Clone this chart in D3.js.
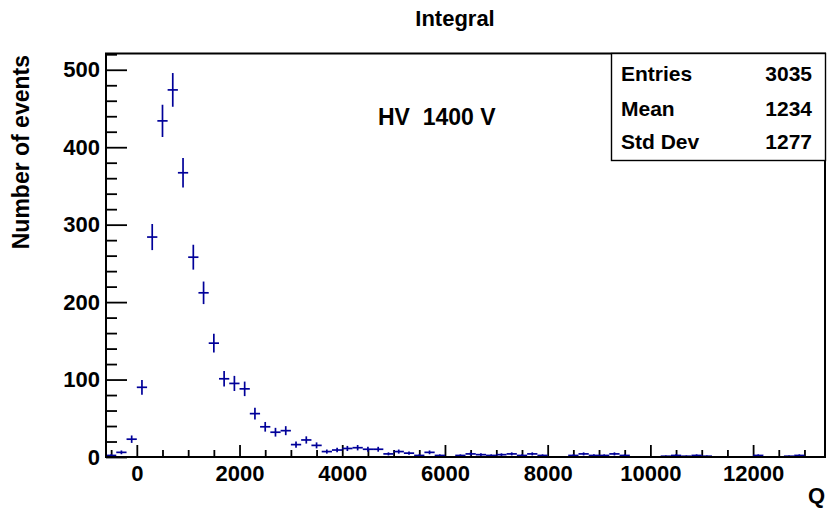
<!DOCTYPE html>
<html>
<head>
<meta charset="utf-8">
<script src="https://cdn.jsdelivr.net/npm/d3@7"></script>
<style>
  html, body { margin: 0; padding: 0; background: #fff; }
  svg { display: block; }
  text { font-family: "Liberation Sans", Arial, Helvetica, sans-serif; font-weight: bold; fill: #000; }
</style>
</head>
<body>
<svg id="chart" width="832" height="508"></svg>
<script>
// Histogram "Integral": charge Q, 70 bins of width 200 from -600 to 13400
const xRange = [-600, 13400];
const binWidth = 200;
const counts = [
  2, 6, 23, 90, 284, 434, 474, 367, 258, 212,
  147, 101, 95, 88, 56, 39, 32, 34, 16, 22,
  15, 7, 9, 11, 12, 10, 10, 4, 7, 5,
  2, 6, 2, 0, 2, 4, 3, 2, 3, 4,
  2, 4, 2, 0, 0, 2, 4, 2, 2, 4,
  2, 0, 0, 0, 1, 2, 1, 2, 1, 0,
  0, 0, 0, 2, 0, 0, 1, 2, 0, 0
];
const yMax = 521;
const xMajorTicks = [0, 2000, 4000, 6000, 8000, 10000, 12000];
const yMajorTicks = [0, 100, 200, 300, 400, 500];
const statLabels = ["Entries", "Mean", "Std Dev"];
const statValues = ["3035", "1234", "1277"];
const chartTitle = "Integral";
const xTitle = "Q";
const yTitle = "Number of events";
const note = "HV  1400 V";

const svg = d3.select("#chart");
const frame = { left: 106, right: 825, top: 53.5, bottom: 457 };
const markColor = "#000099";
const labelSize = 22;
const titleSize = 23;
const statSize = 21;

const x = d3.scaleLinear().domain(xRange).range([frame.left, frame.right]);
const y = d3.scaleLinear().domain([0, yMax]).range([frame.bottom, frame.top]);

// Minor ticks every 500 on Q, every 20 on counts
const xMinor = d3.range(-500, xRange[1] + 1, 500).filter(v => v % 2000 !== 0);
const yMinor = d3.range(0, yMax, 20).filter(v => v % 100 !== 0);

// Bottom axis: major ticks with labels, then minor ticks
svg.append("g").attr("transform", `translate(0,${frame.bottom})`)
  .call(d3.axisBottom(x).tickValues(xMajorTicks).tickSize(-12).tickPadding(8).tickFormat(d3.format("d")));
svg.append("g").attr("transform", `translate(0,${frame.bottom})`)
  .call(d3.axisBottom(x).tickValues(xMinor).tickSize(-7).tickFormat(""));

// Left axis
svg.append("g").attr("transform", `translate(${frame.left},0)`)
  .call(d3.axisLeft(y).tickValues(yMajorTicks).tickSize(-21).tickPadding(6).tickFormat(d3.format("d")));
svg.append("g").attr("transform", `translate(${frame.left},0)`)
  .call(d3.axisLeft(y).tickValues(yMinor).tickSize(-11).tickFormat(""));

svg.selectAll(".domain").remove();
svg.selectAll(".tick line").attr("stroke", "#000").attr("stroke-width", 1.8);
svg.selectAll(".tick text")
  .style("font-size", labelSize + "px")
  .style("font-family", '"Liberation Sans", Arial, sans-serif')
  .style("font-weight", "bold")
  .attr("fill", "#000");

// Error-bar crosses: horizontal bar across the bin, vertical bar of ±sqrt(N)
const bins = counts.map((n, i) => {
  const lo = xRange[0] + i * binWidth;
  return { lo, hi: lo + binWidth, mid: lo + binWidth / 2, n, err: Math.sqrt(n) };
}).filter(b => b.n > 0);

const marks = svg.append("g").attr("stroke", markColor).attr("stroke-width", 1.7).attr("fill", "none");
marks.selectAll("line.h").data(bins).join("line").attr("class", "h")
  .attr("x1", d => x(d.lo)).attr("x2", d => x(d.hi))
  .attr("y1", d => y(d.n)).attr("y2", d => y(d.n));
marks.selectAll("line.v").data(bins).join("line").attr("class", "v")
  .attr("x1", d => x(d.mid)).attr("x2", d => x(d.mid))
  .attr("y1", d => y(Math.max(0, d.n - d.err))).attr("y2", d => y(d.n + d.err));

// Frame border on top of the marks
svg.append("rect")
  .attr("x", frame.left).attr("y", frame.top)
  .attr("width", frame.right - frame.left).attr("height", frame.bottom - frame.top)
  .attr("fill", "none").attr("stroke", "#000").attr("stroke-width", 2);

// Statistics box
const stats = svg.append("g");
const box = { x: 611.5, y: 53.5, w: 214, h: 107 };
stats.append("rect").attr("x", box.x).attr("y", box.y).attr("width", box.w).attr("height", box.h)
  .attr("fill", "#fff").attr("stroke", "#000").attr("stroke-width", 1.4);
const rowBase = [81, 116, 149];
stats.selectAll("text.lab").data(statLabels).join("text").attr("class", "lab")
  .attr("x", 621).attr("y", (d, i) => rowBase[i]).style("font-size", statSize + "px").text(d => d);
stats.selectAll("text.val").data(statValues).join("text").attr("class", "val")
  .attr("x", 812).attr("y", (d, i) => rowBase[i]).attr("text-anchor", "end")
  .style("font-size", statSize + "px").text(d => d);

// Titles and annotation
svg.append("text").attr("x", 455).attr("y", 26).attr("text-anchor", "middle")
  .style("font-size", labelSize + "px").text(chartTitle);
svg.append("text").attr("x", 825).attr("y", 503).attr("text-anchor", "end")
  .style("font-size", labelSize + "px").text(xTitle);
svg.append("text").attr("transform", "translate(29,55) rotate(-90)").attr("text-anchor", "end")
  .style("font-size", titleSize + "px").text(yTitle);
svg.append("text").attr("x", 378).attr("y", 125).style("white-space", "pre")
  .style("font-size", titleSize + "px").text(note);
</script>
</body>
</html>
